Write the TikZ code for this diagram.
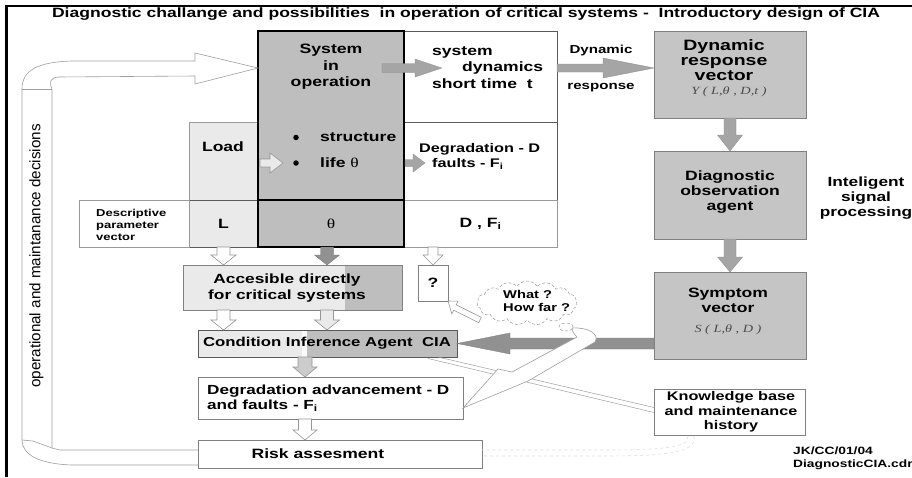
\documentclass[tikz,border=0pt]{standalone}
\usepackage{fontspec}
\setmainfont{Liberation Sans}[FakeStretch=1.3]
\newfontfamily\plainsans{Liberation Sans}
\newfontfamily\serifrm{Liberation Serif}[FakeStretch=1.3]
\usetikzlibrary{calc,shapes.symbols}
\definecolor{gdark}{RGB}{190,190,190}
\definecolor{gbox}{RGB}{197,197,197}
\definecolor{glight}{RGB}{234,234,234}
\definecolor{garrow}{RGB}{165,165,165}
\definecolor{gbig}{RGB}{145,145,145}
\definecolor{gline}{RGB}{90,90,90}
\definecolor{ghollow}{RGB}{150,150,150}
\newcommand\fs[2]{\fontsize{#1}{#2}\selectfont}
\tikzset{
 box/.style={draw=gline, line width=0.8pt, inner sep=0pt, outer sep=0pt, anchor=north west, font=\fs{13.5}{16}\bfseries, align=center},
 lbl/.style={inner sep=0pt, font=\fs{13.5}{16}\bfseries, align=center},
 bullet/.style={circle, fill=black, inner sep=0pt, minimum size=5.5pt},
 grayarrow/.style={fill=garrow, draw=garrow!85!black, line width=0.3pt},
 hollow/.style={fill=white, draw=ghollow, line width=0.6pt},
 lighthollow/.style={fill=glight, draw=ghollow, line width=0.6pt},
 outline/.style={draw=gray!75, line width=0.6pt},
}
% box: [style]{name}{x1}{y1}{x2}{y2}{text}
\newcommand\bx[7][]{\node[box,#1,minimum width={#5-#3},minimum height={#6-#4}] (#2) at (#3,#4) {#7};}
% vertical block arrow: [style]{from}{to}{shaft half}{head half}{head length}
\newcommand\varrow[6][]{\filldraw[#1] let \p1=(#2), \p2=(#3), \n1={sign(\y2-\y1)} in
 ({\x1-#4},\y1) -- ({\x1-#4},{\y2-\n1*#6}) -- ({\x1-#5},{\y2-\n1*#6}) -- (\x1,\y2) -- ({\x1+#5},{\y2-\n1*#6}) -- ({\x1+#4},{\y2-\n1*#6}) -- ({\x1+#4},\y1) -- cycle;}
\newcommand\harrow[6][]{\filldraw[#1] let \p1=(#2), \p2=(#3), \n1={sign(\x2-\x1)} in
 (\x1,{\y1+#4}) -- ({\x2-\n1*#6},{\y1+#4}) -- ({\x2-\n1*#6},{\y1+#5}) -- (\x2,\y1) -- ({\x2-\n1*#6},{\y1-#5}) -- ({\x2-\n1*#6},{\y1-#4}) -- (\x1,{\y1-#4}) -- cycle;}

\begin{document}
\begin{tikzpicture}[x=1pt,y=-1pt]
\useasboundingbox (0,0) rectangle (912,477);
\fill[white] (0,0) rectangle (912,477);
% frame
\draw[line width=2.5pt] (6.5,477) -- (6.5,6) -- (912,6);
% title
\node[lbl] (title) at (466,14) {Diagnostic challange and possibilities\ \ in operation of critical systems -\ \ Introductory design of CIA};

% row coordinates
\coordinate (y68) at (0,68);
\coordinate (y163) at (0,163);
\coordinate (y343) at (0,343.5);
\coordinate (c327) at (327,0);
\coordinate (c305) at (305,0);

% main boxes
\bx[fill=gdark, draw=black, line width=1.2pt]{sys}{258}{31}{404}{200}{}
\bx[fill=gdark, draw=black, line width=1.2pt]{theta}{258}{200}{404}{247}{\mdseries\serifrm θ}
\bx[fill=glight, draw=gray!80]{load}{189}{122}{258}{200}{}
\bx[fill=glight]{Lc}{189}{200}{258}{247}{L}
\bx[draw=gray!80]{desc}{79}{200}{189}{247}{}
\bx{sysdyn}{404}{31}{557}{122}{}
\bx{degr}{404}{122}{557}{200}{}
\bx[draw=gray!80]{DF}{404}{200}{557}{247}{D , F\textsubscript{i}}
\draw[black, line width=1.2pt] (sys.north west) rectangle (theta.south east);
\draw[black, line width=1.2pt] (sys.south west) -- (sys.south east);

\bx[fill=gbox, draw=gray]{dynresp}{654}{31}{806}{118}{}
\bx[fill=gbox, draw=gray]{diag}{654}{151}{806}{239}{}
\bx[fill=gbox, draw=gray]{symp}{654}{272}{806}{359}{}

\fill[glight] (183,265) rectangle (345,310);
\fill[gdark] (345,265) rectangle (402,310);
\bx[draw=gray]{acc}{183}{265}{402}{310}{}
\bx[draw=gray]{q}{418}{265}{448}{301}{?}
\fill[glight] (198,330) rectangle (302,357);
\fill[white!70!glight] (302,330) rectangle (307,357);
\fill[gdark] (307,330) rectangle (457,357);
\bx[draw=gline, line width=1pt]{cia}{198}{330}{457}{357}{}
\bx[draw=gray]{degadv}{198}{377}{463}{419}{}
\bx[draw=gray]{risk}{198}{440}{482}{468}{}
\bx[draw=gray]{kb}{654}{389}{805}{435}{}

% texts
\node[lbl, font=\fs{13.6}{16.5}\bfseries] (tsys) at (331,67) {System\\in\\operation};
\node[bullet] (b1) at (296,137.5) {};
\node[bullet] (b2) at (296,163) {};
\node[lbl, anchor=west] (tstruct) at (320,137) {structure};
\node[lbl, anchor=west] (tlife) at (320,163) {life {\mdseries\serifrm θ}};
\node[lbl] (tload) at (223,147) {Load};
\node[lbl, anchor=west, align=left, font=\fs{10}{12}\bfseries] (tdesc) at (96,225) {Descriptive\\parameter\\vector};
\node[lbl, anchor=west] (ts1) at (432,52) {system};
\node[lbl, anchor=west] (ts2) at (462,68) {dynamics};
\node[lbl, anchor=west] (ts3) at (432,84) {short time\ \ t};
\node[lbl, anchor=west, font=\fs{12.5}{15}\bfseries] (td1) at (419,149) {Degradation - D};
\node[lbl, anchor=west, font=\fs{12.5}{15}\bfseries] (td2) at (432,164) {faults - F\textsubscript{i}};
\node[lbl, font=\fs{15}{15}\bfseries] (tdyn) at (724,60) {Dynamic\\response\\vector};
\node[inner sep=0pt, font=\fs{11}{12}\serifrm\itshape, text=gray!60!black] (ty) at (729,92) {Y ( L,\mdseries θ\itshape\ , D,t )};
\node[lbl, font=\fs{13.5}{15}\bfseries] (tdiag) at (730,192) {Diagnostic\\observation\\agent};
\node[lbl, font=\fs{13.5}{15}\bfseries] (tsymp) at (728,300.5) {Symptom\\vector};
\node[inner sep=0pt, font=\fs{11}{12}\serifrm\itshape, text=gray!60!black] (tsv) at (728,330) {S ( L,\mdseries θ\itshape\ , D )};
\node[lbl, font=\fs{13.3}{16}\bfseries] (tacc) at (287,288) {Accesible directly\\for critical systems};
\node[lbl, font=\fs{12.9}{15}\bfseries] (tcia) at (327,343.5) {Condition Inference Agent\ \ CIA};
\node[lbl, anchor=west, align=left, font=\fs{13.2}{15}\bfseries] (tdeg) at (207,398) {Degradation advancement - D\\and faults - F\textsubscript{i}};
\node[lbl] (trisk) at (318,453.5) {Risk assesment};
\node[lbl, font=\fs{12.5}{14.5}\bfseries] (tkb) at (731,412) {Knowledge base\\and maintenance\\history};
\node[lbl, font=\fs{13.3}{15}\bfseries] (tint) at (866,198) {Inteligent\\signal\\processing};
\node[lbl, font=\fs{11.6}{13}\bfseries] (tdr1) at (601,50) {Dynamic};
\node[lbl, font=\fs{11.6}{13}\bfseries] (tdr2) at (601,88) {response};
\node[lbl, anchor=west, align=left, font=\fs{10.6}{13}\bfseries] (tjk) at (793,458) {JK/CC/01/04\\DiagnosticCIA.cdr};
\node[inner sep=0pt, rotate=90, font=\fs{15.2}{16}\plainsans] (tside) at (36.5,256) {operational and maintanance decisions};

% block arrows
\harrow[grayarrow]{382,68}{442,68}{4.5}{9}{27}
\harrow[grayarrow]{sysdyn.east |- y68}{dynresp.west |- y68}{4}{10}{51}
\varrow[grayarrow]{dynresp.south}{diag.north}{6}{12.5}{16}
\varrow[grayarrow]{diag.south}{symp.north}{6}{12.5}{15}
\harrow[lighthollow]{260,163}{283,163}{4}{10}{13}
\harrow[grayarrow]{405,163}{425,163}{3.5}{9}{12}
\varrow[hollow]{Lc.south}{Lc.south |- acc.north}{6.5}{12.5}{10}
\varrow[fill=gbig, draw=gbig!80!black, line width=0.3pt]{c327 |- theta.south}{c327 |- acc.north}{6.5}{12.5}{10}
\varrow[hollow]{q.north |- DF.south}{q.north}{5}{10}{10}
\varrow[hollow]{Lc.south |- acc.south}{Lc.south |- cia.north}{6.5}{12.5}{10}
\varrow[lighthollow]{c327 |- acc.south}{c327 |- cia.north}{6.5}{12.5}{10}
\varrow[fill=gray!40, draw=ghollow, line width=0.6pt]{c305 |- cia.south}{c305 |- degadv.north}{7}{12}{10}
\varrow[hollow]{c305 |- degadv.south}{c305 |- risk.north}{6.5}{12}{10}

% big arrow symptom -> CIA
\harrow[fill=gbig, draw=gbig!85!black, line width=0.3pt]{symp.west |- y343}{cia.east |- y343}{5.5}{10.5}{53}

% CIA -> knowledge base (thin double line)
\draw[outline, line width=0.5pt] (438,357) -- (kb.west |- 0,407.5);
\draw[outline, line width=0.5pt] (428,358.5) -- (kb.west |- 0,412.5);

% faint link knowledge base -> risk
\draw[gray!25, dashed, line width=0.6pt] (688,436) .. controls (690,448) and (660,450) .. (600,450) -- (risk.east |- 0,450);
\draw[gray!25, dashed, line width=0.6pt] (694,436) .. controls (698,454) and (660,456) .. (600,456) -- (risk.east |- 0,456);

% zigzag white arrow from cloud to degradation box
\filldraw[fill=white, draw=gray!75, line width=0.6pt] (572,328) .. controls (588,327) and (600,334) .. (595,342) -- (528,381) -- (degadv.east |- 0,408) -- (498,369) -- (512,372) -- (577,337) .. controls (574,334) and (572,331) .. (572,328) -- cycle;

% cloud
\node[cloud, cloud puffs=15, cloud puff arc=110, aspect=2.3, draw=gray!80, densely dashed, line width=0.5pt, minimum width=100pt, minimum height=44pt, inner sep=0pt] (cloud) at (527,303) {};
\draw[gray!80, densely dashed, line width=0.5pt] (566,327) ellipse (7pt and 4pt);
\node[lbl, anchor=west, align=left, font=\fs{11.3}{13}\bfseries] (tcloud) at (503,300.5) {What ?\\How far ?};
% cloud -> ? hollow arrow
\filldraw[hollow] (481.3,317.3) -- (456.2,304.8) -- (458.0,301.2) -- (q.south east) -- (451.8,313.8) -- (453.6,310.2) -- (478.7,322.7) -- cycle;

% left feedback hollow arrow
\draw[outline] (risk.west |- 0,465) -- (72,465) .. controls (40,464) and (22,455) .. (22,440) -- (22,89) .. controls (22,70) and (38,62) .. (72,61) -- (195,61) -- (195,53) -- (sys.west |- y68) -- (195,84) -- (195,76) -- (58,77) .. controls (50,78) and (49,82) .. (52,89) -- (52,448) -- (60,450) -- (risk.west |- 0,450);
\draw[outline] (22,89) -- (52,89);
\draw[outline] (22,440) -- (33,441) -- (52,448);
\end{tikzpicture}
\end{document}
